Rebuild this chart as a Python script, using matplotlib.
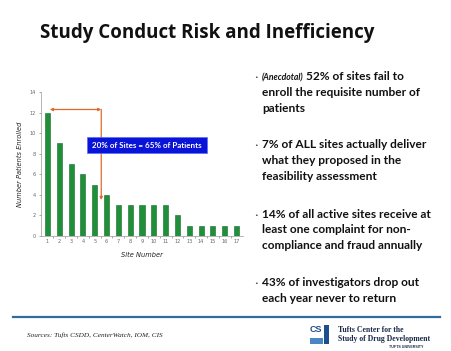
import matplotlib
matplotlib.use("Agg")
import matplotlib.pyplot as plt
from matplotlib.patches import Rectangle

sites = list(range(1, 18))
patients = [12, 9, 7, 6, 5, 4, 3, 3, 3, 3, 3, 2, 1, 1, 1, 1, 1]
yticks = [0, 2, 4, 6, 8, 10, 12, 14]

title = "Study Conduct Risk and Inefficiency"
callout = "20% of Sites = 65% of Patients"
bullets = [
    ["52% of sites fail to", "enroll the requisite number of", "patients"],
    ["7% of ALL sites actually deliver", "what they proposed in the", "feasibility assessment"],
    ["14% of all active sites receive at", "least one complaint for non-", "compliance and fraud annually"],
    ["43% of investigators drop out", "each year never to return"],
]
source = "Sources: Tufts CSDD, CenterWatch, IOM, CIS"

W, H = 452, 351
fig = plt.figure(figsize=(W / 100, H / 100), dpi=100)
fig.patch.set_facecolor("white")

def fx(px):
    return px / W

def fy(py):
    return 1 - py / H

ax = fig.add_axes([fx(41), fy(236), fx(243) - fx(41), fy(92) - fy(236)])
ax.bar(sites, patients, width=0.43, color="#1f8f3a", edgecolor="#16672a", linewidth=0.4, zorder=2)
ax.set_xlim(0.45, 17.55)
ax.set_ylim(0, 14)
ax.set_yticks(yticks)
ax.set_xticks(sites)
ax.tick_params(axis="both", labelsize=3.6, colors="#666666", length=1.5, width=0.4, pad=2)
ax.tick_params(axis="x", length=0)
ax.set_xticks([s + 0.5 for s in sites[:-1]], minor=True)
ax.tick_params(axis="x", which="minor", length=1.5, width=0.4, colors="#666666")
for sp in ["top", "right"]:
    ax.spines[sp].set_visible(False)
for sp in ["left", "bottom"]:
    ax.spines[sp].set_color("#999999")
    ax.spines[sp].set_linewidth(0.5)
ax.set_xlabel("Site Number", fontsize=4.8, style="italic", labelpad=6, color="#222222")
ax.set_ylabel("Number Patients Enrolled", fontsize=4.8, style="italic", labelpad=5, color="#222222")

orange = "#e0692a"
ax.annotate("", xy=(1.2, 12.3), xytext=(5.55, 12.3),
            arrowprops=dict(arrowstyle="<|-|>", color=orange, lw=0.9, mutation_scale=4, shrinkA=0, shrinkB=0))
ax.annotate("", xy=(5.55, 3.5), xytext=(5.55, 12.3),
            arrowprops=dict(arrowstyle="-|>", color=orange, lw=0.9, mutation_scale=4, shrinkA=0, shrinkB=0))

fig.patches.append(Rectangle((fx(87), fy(153)), fx(207) - fx(87), fy(137) - fy(153),
                             transform=fig.transFigure, facecolor="#0a14d8", edgecolor="#5a6cff",
                             linewidth=0.5, zorder=5))
fig.text(fx(147), fy(145.5), callout, color="white", fontsize=5.8, fontweight="bold",
         ha="center", va="center", family="Lato", zorder=6)

fig.text(fx(40), fy(33), title, fontsize=13.5, fontweight="bold", family="Open Sans",
         ha="left", va="center", color="#111111")

starts = [77, 145, 214, 283]
lh = 15.6
for i, (lines, y0) in enumerate(zip(bullets, starts)):
    fig.text(fx(256), fy(y0 + 1), "\u2022", fontsize=4.5, ha="center", va="center", color="#444444")
    for j, line in enumerate(lines):
        x = 262
        if i == 0 and j == 0:
            fig.text(fx(262), fy(y0 + 1), "(Anecdotal)", fontsize=6.2, style="italic", fontweight="bold",
                     family="Lato", ha="left", va="center", color="#111111")
            x = 306
        fig.text(fx(x), fy(y0 + j * lh), line, fontsize=8.6, fontweight="bold", family="Lato",
                 ha="left", va="center", color="#111111")

fig.add_artist(plt.Line2D([fx(13), fx(440)], [fy(317), fy(317)], transform=fig.transFigure,
                          color="#2f6d9e", lw=1.6))
fig.text(fx(27), fy(335), source, fontsize=5.2, style="italic", family="Liberation Serif",
         ha="left", va="center", color="#222222")

fig.text(fx(310), fy(329.5), "CS", fontsize=6.5, fontweight="bold", family="Liberation Sans",
         ha="left", va="center", color="#1d4f8c")
fig.patches.append(Rectangle((fx(324), fy(344)), fx(5), fy(325) - fy(344),
                             transform=fig.transFigure, facecolor="#1d4f8c", edgecolor="none"))
fig.patches.append(Rectangle((fx(310), fy(344)), fx(13), fy(338) - fy(344),
                             transform=fig.transFigure, facecolor="#4a86c4", edgecolor="none"))
fig.text(fx(338), fy(330), "Tufts Center for the", fontsize=5.6, fontweight="bold",
         family="Liberation Serif", ha="left", va="center", color="#1a2a4a")
fig.text(fx(338), fy(339), "Study of Drug Development", fontsize=5.6, fontweight="bold",
         family="Liberation Serif", ha="left", va="center", color="#1a2a4a")
fig.text(fx(424), fy(347), "TUFTS UNIVERSITY", fontsize=2.6, fontweight="bold",
         family="Liberation Sans", ha="right", va="center", color="#1a2a4a")

fig.savefig("out.png", dpi=100, facecolor="white")
